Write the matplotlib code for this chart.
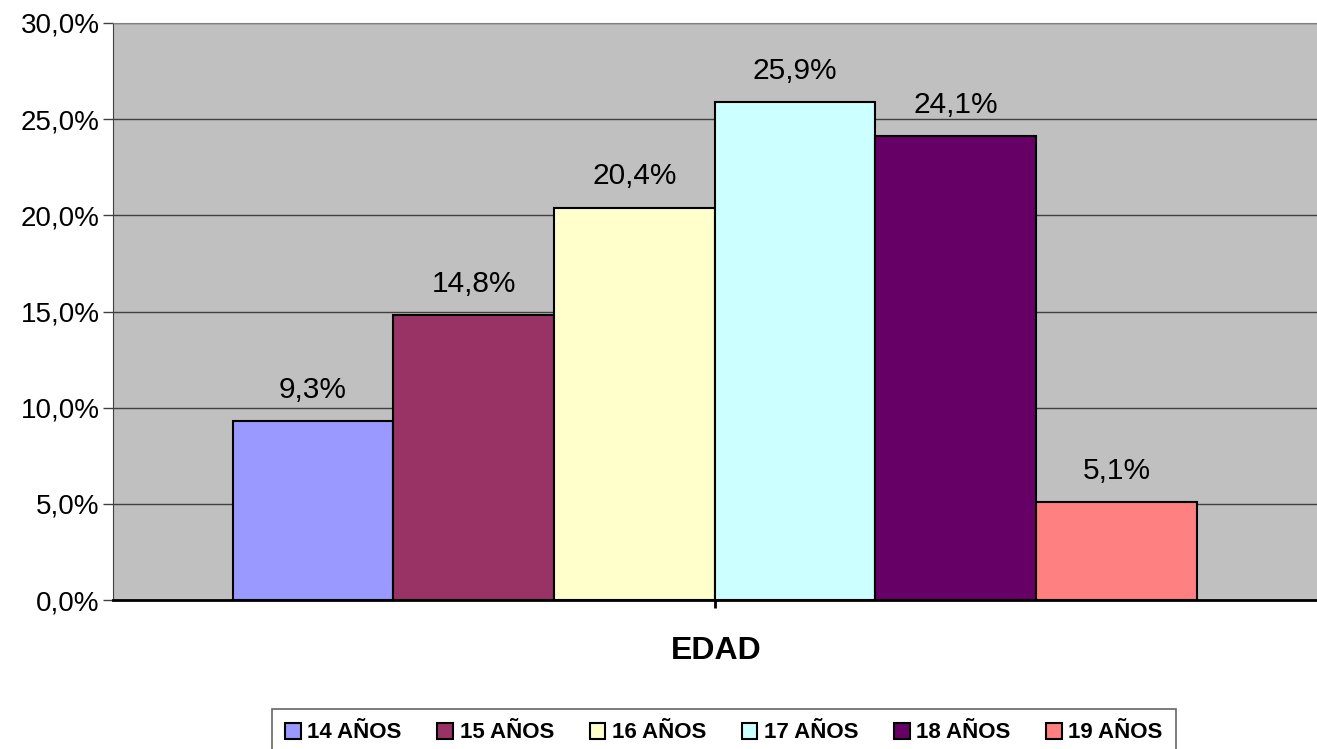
import matplotlib.pyplot as plt
from matplotlib.patches import Patch

plt.rcParams['font.family'] = ['Liberation Sans', 'DejaVu Sans']

# edades y porcentajes
grupos = ["14 AÑOS", "15 AÑOS", "16 AÑOS", "17 AÑOS", "18 AÑOS", "19 AÑOS"]
porcentajes = [9.3, 14.8, 20.4, 25.9, 24.1, 5.1]
colores = ["#9999FF", "#993366", "#FFFFCC", "#CCFFFF", "#660066", "#FF8080"]
ticks_y = [0, 5, 10, 15, 20, 25, 30]

fig = plt.figure(figsize=(13.17, 7.49), dpi=100)
ax = fig.add_axes([113 / 1317, 1 - 600 / 749, (1319 - 113) / 1317, 577 / 749])
ax.set_facecolor("#C0C0C0")

x = list(range(len(grupos)))
ax.bar(x, porcentajes, width=1.0, color=colores, edgecolor="black",
       linewidth=1.5, zorder=3)
for xi, v in zip(x, porcentajes):
    ax.text(xi, v + 0.9, f"{v:.1f}%".replace(".", ","), ha="center",
            va="bottom", fontsize=21.5, zorder=4)

ax.set_ylim(0, 30)
ax.set_xlim(-1.245, 6.26)
ax.set_yticks(ticks_y)
ax.set_yticklabels([f"{t:.1f}%".replace(".", ",") for t in ticks_y], fontsize=20)
ax.yaxis.grid(True, color="#404040", linewidth=1, zorder=1)
ax.set_axisbelow(True)
ax.tick_params(axis="y", length=7, width=1, color="#404040", pad=2.5)

ax.set_xticks([2.5])
ax.set_xticklabels([""])
ax.tick_params(axis="x", length=6, width=2, color="black")

ax.spines["right"].set_visible(False)
ax.spines["top"].set_color("#808080")
ax.spines["left"].set_color("#404040")
ax.spines["bottom"].set_color("black")
ax.spines["bottom"].set_linewidth(2)

fig.text(716 / 1317, 1 - 651 / 749, "EDAD", ha="center", va="center",
         fontsize=23, fontweight="bold")

handles = [Patch(facecolor=c, edgecolor="black", linewidth=1.5) for c in colores]
leg = fig.legend(handles, grupos, loc="center", ncol=6,
                 bbox_to_anchor=(724 / 1317, 1 - 733 / 749),
                 prop={"weight": "bold", "size": 16}, frameon=True,
                 fancybox=False, edgecolor="#404040", handlelength=0.7,
                 handleheight=0.7, handletextpad=0.3, columnspacing=1.6,
                 borderpad=0.6)
leg.get_frame().set_linewidth(1.2)

fig.savefig("out.png", dpi=100)
